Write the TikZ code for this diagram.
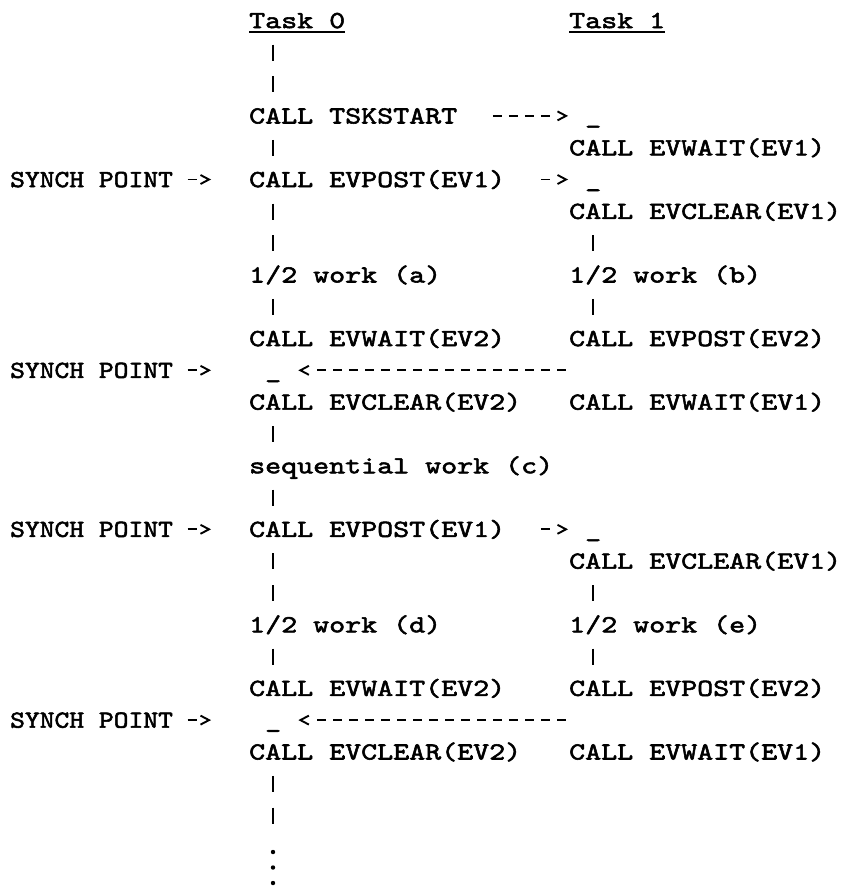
\documentclass[tikz,border=0pt]{standalone}
\usepackage{fontspec}
\newfontfamily\typewriter{lmmono10-regular}[Extension=.otf, FakeStretch=1.2414, FakeBold=2.2]
\newfontfamily\labelface{lmmono10-regular}[Extension=.otf, FakeStretch=1.148, FakeBold=2.2]

% one grid cell = one typewriter character (16pt wide, 31.8pt line pitch)
\tikzset{
  txt/.style={font=\typewriter\fontsize{24.55}{31.8}\selectfont, inner sep=0pt,
    anchor=base west, text height=16.6pt, text depth=1.4pt},
  lbl/.style={txt, font=\labelface\fontsize{24.55}{31.8}\selectfont},
  bars/.style={line width=2.3pt, dash pattern=on 16pt off 15.8pt, dash phase=17pt},
  dashrun/.style={line width=1.8pt, dash pattern=on 9pt off 7pt},
  chev/.style={line width=1.9pt, line join=miter},
  uline/.style={line width=1.5pt},
  dotrun/.style={line width=4.4pt, line cap=round, dash pattern=on 0pt off 15.5pt},
}

% dashed signal pointing right:
% source, target, start shortening, end shortening, tip distance before target (pt)
\newcommand\sigR[5]{%
  \pgfmathsetmacro\sgT{-(#5)}%
  \pgfmathsetmacro\sgK{-(#5+8.5)}%
  \draw[dashrun, shorten <=#3pt, shorten >=#4pt] (#1) -- (#2);
  \draw[chev] ([xshift=\sgK pt, yshift=4.5pt]#2) -- ([xshift=\sgT pt]#2) -- ([xshift=\sgK pt, yshift=-4.5pt]#2);
}
% dashed signal pointing left: target, source, blank cells after target, blank cells before source
\newcommand\sigleft[4]{%
  \pgfmathsetmacro\sgA{16*#3+19.5}%
  \pgfmathsetmacro\sgB{16*#4+3.5}%
  \pgfmathsetmacro\sgT{16*#3+3}%
  \pgfmathsetmacro\sgK{16*#3+11.5}%
  \draw[dashrun, shorten <=\sgB pt, shorten >=\sgA pt] (#2) -- (#1);
  \draw[chev] ([xshift=\sgK pt, yshift=4.5pt]#1) -- ([xshift=\sgT pt]#1) -- ([xshift=\sgK pt, yshift=-4.5pt]#1);
}

\begin{document}
\begin{tikzpicture}[x=16pt, y=-31.8pt]
\path[use as bounding box] (-0.5625,-0.8836) rectangle (52,26.978);

% columns of the two task time lines
\coordinate (ca) at (16.5,0);
\coordinate (cb) at (36.5,0);

% headers
\node[txt] (t0) at (15,0) {Task 0};
\node[txt] (t1) at (35,0) {Task 1};
\draw[uline] ([yshift=-4pt]t0.base west) -- ([yshift=-4pt]t0.base east);
\draw[uline] ([yshift=-4pt]t1.base west) -- ([yshift=-4pt]t1.base east);

% Task 0
\node[txt] (a3)  at (15,3)  {CALL TSKSTART};
\node[txt] (a5)  at (15,5)  {CALL EVPOST(EV1)};
\node[txt] (a8)  at (15,8)  {1/2 work (a)};
\node[txt] (a10) at (15,10) {CALL EVWAIT(EV2)};
\node[txt] (m11) at (16,11) {\_};
\node[txt] (a12) at (15,12) {CALL EVCLEAR(EV2)};
\node[txt] (a14) at (15,14) {sequential work (c)};
\node[txt] (a16) at (15,16) {CALL EVPOST(EV1)};
\node[txt] (a19) at (15,19) {1/2 work (d)};
\node[txt] (a21) at (15,21) {CALL EVWAIT(EV2)};
\node[txt] (m22) at (16,22) {\_};
\node[txt] (a23) at (15,23) {CALL EVCLEAR(EV2)};

% Task 1
\node[txt] (m3)  at (36,3)  {\_};
\node[txt] (b4)  at (35,4)  {CALL EVWAIT(EV1)};
\node[txt] (m5)  at (36,5)  {\_};
\node[txt] (b6)  at (35,6)  {CALL EVCLEAR(EV1)};
\node[txt] (b8)  at (35,8)  {1/2 work (b)};
\node[txt] (b10) at (35,10) {CALL EVPOST(EV2)};
\node[txt] (b12) at (35,12) {CALL EVWAIT(EV1)};
\node[txt] (m16) at (36,16) {\_};
\node[txt] (b17) at (35,17) {CALL EVCLEAR(EV1)};
\node[txt] (b19) at (35,19) {1/2 work (e)};
\node[txt] (b21) at (35,21) {CALL EVPOST(EV2)};
\node[txt] (b23) at (35,23) {CALL EVWAIT(EV1)};

% synchronisation labels
\node[lbl] (s5)  at (0.06,5)  {SYNCH POINT};
\node[lbl] (s11) at (0.06,11) {SYNCH POINT};
\node[lbl] (s16) at (0.06,16) {SYNCH POINT};
\node[lbl] (s22) at (0.06,22) {SYNCH POINT};

% time line of Task 0
\draw[bars] (t0.south -| ca) -- (a3.north -| ca);
\draw[bars] (a3.south -| ca) -- (a5.north -| ca);
\draw[bars] (a5.south -| ca) -- (a8.north -| ca);
\draw[bars] (a8.south -| ca) -- (a10.north -| ca);
\draw[bars] (a12.south -| ca) -- (a14.north -| ca);
\draw[bars] (a14.south -| ca) -- (a16.north -| ca);
\draw[bars] (a16.south -| ca) -- (a19.north -| ca);
\draw[bars] (a19.south -| ca) -- (a21.north -| ca);
\coordinate (barsEnd) at (16.5,25.478);
\coordinate (dotsTop) at (16.5,25.909);
\coordinate (tail)    at (16.5,26.93);
\draw[bars] (a23.south -| ca) -- (barsEnd);
\draw[dotrun] (dotsTop) -- (tail);

% time line of Task 1
\draw[bars] (b6.south -| cb) -- (b8.north -| cb);
\draw[bars] (b8.south -| cb) -- (b10.north -| cb);
\draw[bars] (b17.south -| cb) -- (b19.north -| cb);
\draw[bars] (b19.south -| cb) -- (b21.north -| cb);

% signals between the tasks
\sigR{a3.east}{m3.west}{35.5}{35.5}{19}
\sigR{a5.east}{m5.west}{35.5}{35.5}{19}
\sigR{a16.east}{m16.west}{35.5}{35.5}{19}
\sigleft{m11.east}{m11.east -| b12.west}{1}{0}
\sigleft{m22.east}{m22.east -| b23.west}{1}{0}

% synch point pointers
\sigR{s5.east}{a5.west}{14.5}{52.5}{40}
\sigR{s11.east}{m11.west}{14.5}{68.5}{56}
\sigR{s16.east}{a16.west}{14.5}{52.5}{40}
\sigR{s22.east}{m22.west}{14.5}{68.5}{56}
\end{tikzpicture}
\end{document}
